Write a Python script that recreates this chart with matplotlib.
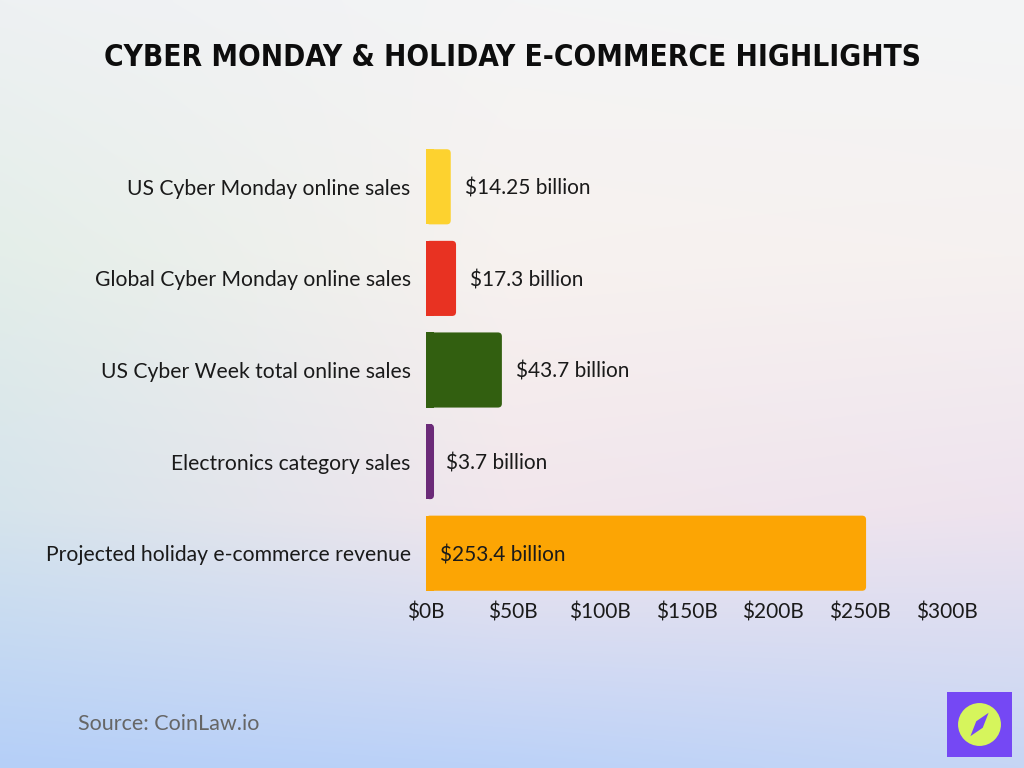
import numpy as np
import matplotlib
matplotlib.use("Agg")
import matplotlib.pyplot as plt
from matplotlib.patches import FancyBboxPatch, Rectangle, Circle, Polygon
from matplotlib.colors import to_rgb

# ---- data ----
categories = [
    "US Cyber Monday online sales",
    "Global Cyber Monday online sales",
    "US Cyber Week total online sales",
    "Electronics category sales",
    "Projected holiday e-commerce revenue",
]
values = [14.25, 17.3, 43.7, 3.7, 253.4]
value_labels = ["$14.25 billion", "$17.3 billion", "$43.7 billion", "$3.7 billion", "$253.4 billion"]
bar_colors = ["#fdd22f", "#e83222", "#325f10", "#6b2a78", "#fca504"]
xticks = [0, 50, 100, 150, 200, 250, 300]
xtick_labels = ["$0B", "$50B", "$100B", "$150B", "$200B", "$250B", "$300B"]
title = "Cyber Monday & Holiday E-commerce Highlights"
source = "Source: CoinLaw.io"

W, H = 1024, 768
fig = plt.figure(figsize=(W / 100, H / 100), dpi=100)

# ---- background gradient ----
grid = [
    ["#eef1f3", "#f4f4f5", "#f3f5f6"],
    ["#e4eee9", "#f7f2ef", "#f6f1f0"],
    ["#d6e4ec", "#f2e6ec", "#eee3ee"],
    ["#b5cff8", "#bcd2f8", "#c6d6f5"],
]
g = np.array([[to_rgb(c) for c in row] for row in grid])
ys = np.linspace(0, 1, g.shape[0])
xs = np.linspace(0, 1, g.shape[1])
yy = np.linspace(0, 1, 200)
xx = np.linspace(0, 1, 200)
tmp = np.empty((g.shape[0], 200, 3))
for i in range(g.shape[0]):
    for k in range(3):
        tmp[i, :, k] = np.interp(xx, xs, g[i, :, k])
img = np.empty((200, 200, 3))
for j in range(200):
    for k in range(3):
        img[:, j, k] = np.interp(yy, ys, tmp[:, j, k])
bg = fig.add_axes([0, 0, 1, 1], zorder=0)
bg.imshow(img, aspect="auto", extent=[0, 1, 0, 1], origin="upper", interpolation="bicubic")
bg.set_axis_off()

# ---- main axes ----
ax = fig.add_axes([426 / W, 1 - 599 / H, (947 - 426) / W, (599 - 141) / H], zorder=1)
ax.patch.set_alpha(0)
ypos = np.arange(len(categories))
bars = ax.barh(ypos, values, height=0.82, color=bar_colors)
ax.set_xlim(0, 300)
ax.set_ylim(len(categories) - 0.5, -0.5)

# rounded versions of bars
x_per_px = 300 / (947 - 426)
y_per_px = 5 / (599 - 141)
for b, c in zip(bars, bar_colors):
    x0, y0 = b.get_x(), b.get_y()
    w, h = b.get_width(), b.get_height()
    b.set_visible(False)
    r = 4 * x_per_px
    fb = FancyBboxPatch((x0 + r, y0 + r * y_per_px / x_per_px), max(w - 2 * r, 0.01),
                        h - 2 * r * y_per_px / x_per_px,
                        boxstyle=f"round,pad={r},rounding_size={r}",
                        mutation_aspect=y_per_px / x_per_px,
                        facecolor=c, edgecolor="none")
    ax.add_patch(fb)
    ax.add_patch(Rectangle((x0, y0), min(w, 2 * r), h, facecolor=c, edgecolor="none"))

lab_font = ["Lato", "DejaVu Sans"]
for i, (v, lab) in enumerate(zip(values, value_labels)):
    xpos = 8 if v > 150 else v + 8
    ax.text(xpos, i, lab, va="center_baseline", ha="left", fontsize=15, family=lab_font,
            color="#1a1a1a")

ax.set_yticks(ypos)
ax.set_yticklabels(categories, fontsize=15.2, family=lab_font, color="#1a1a1a")
ax.set_xticks(xticks)
ax.set_xticklabels(xtick_labels, fontsize=15, family=lab_font, color="#1a1a1a")
ax.tick_params(axis="both", length=0)
ax.tick_params(axis="y", pad=11)
ax.tick_params(axis="x", pad=2.5)
for s in ax.spines.values():
    s.set_visible(False)

# ---- title and source ----
t = fig.text(0.5, 1 - 58 / H, title.upper(), ha="center", va="center", fontsize=30,
             family="DejaVu Sans", stretch="condensed", weight="heavy", color="#0d0d0d")
fig.canvas.draw()
tw = t.get_window_extent().width
target = 812
if tw > target:
    t.set_fontsize(30 * target / tw)
fig.text(78 / W, 1 - 724 / H, source, ha="left", va="center", fontsize=15.5,
         family=lab_font, color="#666666")

# ---- logo ----
lg = fig.add_axes([947 / W, 1 - 757 / H, 65 / W, 65 / H], zorder=2)
lg.set_xlim(0, 1); lg.set_ylim(0, 1); lg.set_axis_off()
lg.add_patch(Rectangle((0, 0), 1, 1, facecolor="#7548f4", edgecolor="none"))
lg.add_patch(Circle((0.5, 0.5), 0.33, facecolor="#d6f55c", edgecolor="none"))
lg.add_patch(Polygon([(0.64, 0.68), (0.55, 0.45), (0.36, 0.32), (0.45, 0.55)],
                     closed=True, facecolor="#7548f4", edgecolor="none"))

fig.savefig("out.png", dpi=100)
